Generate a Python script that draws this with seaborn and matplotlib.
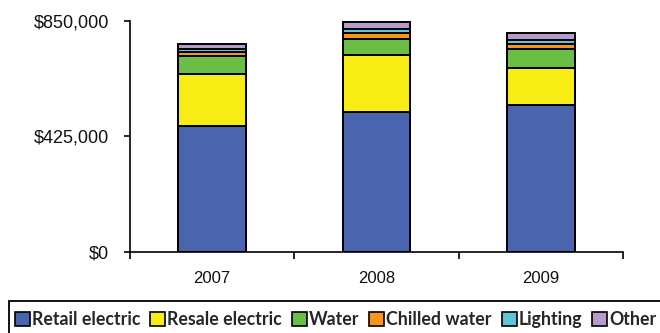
import matplotlib
matplotlib.use("Agg")
import matplotlib.pyplot as plt
from matplotlib.patches import Patch, Rectangle
from matplotlib.ticker import FuncFormatter
import numpy as np
import pandas as pd
import seaborn as sns

years = ["2007", "2008", "2009"]
series = ["Retail electric", "Resale electric", "Water", "Chilled water", "Lighting", "Other"]
retail_electric = [460700, 515200, 539800]
resale_electric = [193200, 208600, 137300]
water = [65100, 59700, 67000]
chilled_water = [14000, 21300, 19500]
lighting = [11100, 13900, 14700]
other = [20200, 26500, 25400]
colors = ["#4A65AE", "#F7EC13", "#6BBE45", "#F7941D", "#5EC5D9", "#B69CCB"]
y_ticks = [0, 425000, 850000]

values = [retail_electric, resale_electric, water, chilled_water, lighting, other]
df = pd.DataFrame({"year": years})
for name, vals in zip(series, values):
    df[name] = vals

sns.set_theme(style="white")
plt.rcParams["font.family"] = ["Liberation Sans", "DejaVu Sans"]

fig = plt.figure(figsize=(6.6, 3.33), dpi=100)
ax = fig.add_axes([130 / 660, 1 - 251.7 / 333, (623 - 130) / 660, (251.7 - 20.7) / 333])

# stacked bars: draw cumulative totals from the top segment down
cum = df[series].cumsum(axis=1)
for name, col in reversed(list(zip(series, colors))):
    sns.barplot(x=df["year"], y=cum[name], color=col, width=0.41,
                edgecolor="black", linewidth=1.4, saturation=1, ax=ax)

ax.set_ylim(0, 850000)
ax.set_xlim(-0.5, 2.5)
ax.set_yticks(y_ticks)
ax.yaxis.set_major_formatter(FuncFormatter(lambda v, p: f"${v:,.0f}"))
ax.set_xlabel("")
ax.set_ylabel("")

for s in ["top", "right"]:
    ax.spines[s].set_visible(False)
for s in ["left", "bottom"]:
    ax.spines[s].set_color("black")
    ax.spines[s].set_linewidth(1.2)

ax.tick_params(axis="y", which="major", left=True, length=4, width=1.2,
               color="black", pad=11, labelsize=13, labelcolor="#111111")
ax.tick_params(axis="x", which="major", bottom=False, length=0, pad=14,
               labelsize=12, labelcolor="#111111")
ax.set_xticks([-0.5, 0.5, 1.5, 2.5], minor=True)
ax.tick_params(axis="x", which="minor", bottom=True, length=5, width=1.2,
               color="black")

handles = [Patch(facecolor=c, edgecolor="black", linewidth=1.2) for c in colors]
leg = fig.legend(handles, series, loc="upper left",
                 bbox_to_anchor=(15 / 660, 1 - 311 / 333),
                 ncol=6, frameon=False, borderpad=0, borderaxespad=0,
                 handlelength=0.84, handleheight=0.84, handletextpad=0.12,
                 columnspacing=0.55,
                 prop={"family": ["Liberation Sans Narrow", "Lato", "DejaVu Sans"],
                       "weight": "bold", "size": 12.8})

fig.patches.append(Rectangle((9 / 660, -0.1), 1.0, 0.1 + (333 - 301) / 333,
                             transform=fig.transFigure, fill=False,
                             edgecolor="black", linewidth=1.3))

fig.savefig("out.png", dpi=100)
